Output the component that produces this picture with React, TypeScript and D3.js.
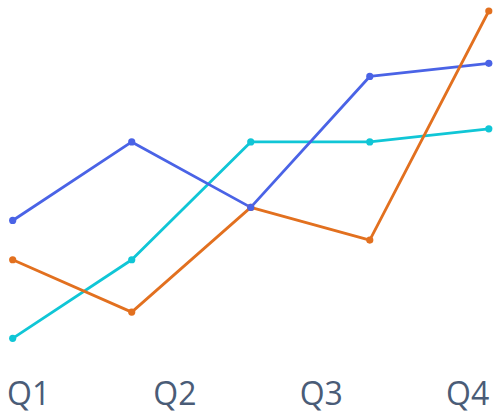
import React from "react";
import * as d3 from "d3";

const pointIndex = [0, 1, 2, 3, 4];
const blueValues = [18, 30, 20, 40, 42];
const orangeValues = [12, 4, 20, 15, 50];
const cyanValues = [0, 12, 30, 30, 32];
const tickLabels = ["Q1", "Q2", "Q3", "Q4"];

const series = [
  { name: "cyan", values: cyanValues, color: "#10c6d6" },
  { name: "blue", values: blueValues, color: "#4a63e6" },
  { name: "orange", values: orangeValues, color: "#e2701f" },
];
const dotOrder = ["cyan", "orange", "blue"];

export default function App() {
  const W = 500;
  const H = 418;
  const x = d3.scaleLinear().domain([0, 4]).range([12.7, 488.8]);
  const y = d3.scaleLinear().domain([0, 50]).range([338.3, 11]);
  const labelX = d3.scalePoint<string>().domain(tickLabels).range([7, 446]);
  const line = d3
    .line<number>()
    .x((_, i) => x(pointIndex[i]))
    .y((d) => y(d));

  return (
    <svg
      width={W}
      height={H}
      style={{ position: "absolute", left: 0, top: 0, display: "block" }}
    >
      <rect width={W} height={H} fill="#ffffff" />
      {series.map((s) => (
        <path key={s.name} d={line(s.values) || ""} fill="none" stroke={s.color} strokeWidth={2.8} strokeLinejoin="round" />
      ))}
      {dotOrder.map((n) => {
        const s = series.find((d) => d.name === n)!;
        return (
          <g key={n}>
            {s.values.map((v, i) => (
              <circle key={i} cx={x(pointIndex[i])} cy={y(v)} r={3.6} fill={s.color} />
            ))}
          </g>
        );
      })}
      {tickLabels.map((t) => (
        <text
          key={t}
          x={labelX(t)}
          y={404.5}
          fontFamily="'Open Sans', sans-serif"
          fontSize={32}
          fill="#4a5c77"
        >
          {t}
        </text>
      ))}
    </svg>
  );
}
